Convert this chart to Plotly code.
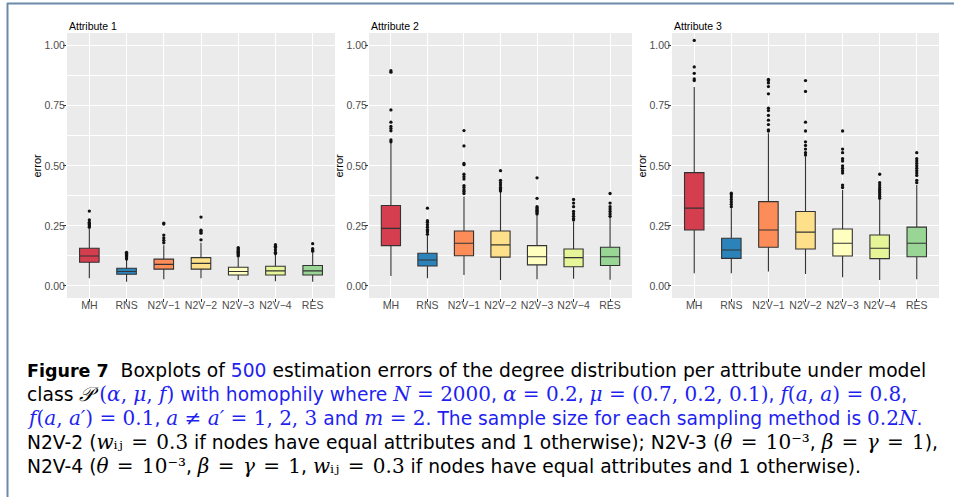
import plotly.graph_objects as go

W, H = 954, 497

categories = ["MH", "RNS", "N2V−1", "N2V−2", "N2V−3", "N2V−4", "RES"]
colors = ["#D53E4F", "#2B83BA", "#FC8D59", "#FEE08B", "#FFFFBF", "#E6F598", "#99D594"]
panel_titles = ["Attribute 1", "Attribute 2", "Attribute 3"]
y_ticks = [0.0, 0.25, 0.5, 0.75, 1.0]

# Attribute 1 box statistics (per category)
a1_lower = [0.032, 0.018, 0.028, 0.032, 0.025, 0.020, 0.018]
a1_q1 = [0.099, 0.049, 0.070, 0.070, 0.046, 0.046, 0.046]
a1_med = [0.125, 0.060, 0.090, 0.094, 0.060, 0.063, 0.063]
a1_q3 = [0.157, 0.074, 0.112, 0.118, 0.078, 0.082, 0.085]
a1_upper = [0.240, 0.110, 0.170, 0.180, 0.120, 0.130, 0.140]
a1_out = [
    [0.245, 0.250, 0.255, 0.260, 0.265, 0.275, 0.312],
    [0.112, 0.117, 0.122, 0.127, 0.131, 0.135, 0.140],
    [0.180, 0.190, 0.200, 0.212, 0.258, 0.262],
    [0.192, 0.220, 0.226, 0.232, 0.287],
    [0.125, 0.130, 0.135, 0.140, 0.145, 0.150, 0.155, 0.160],
    [0.135, 0.140, 0.150, 0.160, 0.165, 0.172],
    [0.145, 0.150, 0.155, 0.176],
]

# Attribute 2
a2_lower = [0.042, 0.032, 0.046, 0.025, 0.028, 0.030, 0.026]
a2_q1 = [0.168, 0.083, 0.126, 0.120, 0.088, 0.080, 0.085]
a2_med = [0.240, 0.108, 0.178, 0.171, 0.122, 0.118, 0.122]
a2_q3 = [0.335, 0.136, 0.229, 0.229, 0.168, 0.154, 0.161]
a2_upper = [0.595, 0.208, 0.372, 0.393, 0.296, 0.268, 0.289]
a2_out = [
    [0.600, 0.608, 0.646, 0.655, 0.664, 0.682, 0.733, 0.890, 0.896],
    [0.215, 0.225, 0.230, 0.235, 0.245, 0.255, 0.265, 0.272, 0.324],
    [0.385, 0.393, 0.400, 0.410, 0.418, 0.445, 0.455, 0.465, 0.505, 0.510, 0.583, 0.647],
    [0.395, 0.400, 0.405, 0.410, 0.420, 0.430, 0.440, 0.480],
    [0.300, 0.305, 0.310, 0.315, 0.320, 0.325, 0.330, 0.365, 0.450],
    [0.275, 0.280, 0.290, 0.300, 0.310, 0.330, 0.345, 0.360],
    [0.290, 0.300, 0.310, 0.320, 0.330, 0.345, 0.385],
]

# Attribute 3
a3_lower = [0.053, 0.053, 0.060, 0.050, 0.036, 0.025, 0.028]
a3_q1 = [0.233, 0.115, 0.161, 0.154, 0.125, 0.114, 0.122]
a3_med = [0.324, 0.150, 0.233, 0.224, 0.178, 0.157, 0.178]
a3_q3 = [0.472, 0.199, 0.351, 0.310, 0.2375, 0.2125, 0.245]
a3_upper = [0.828, 0.324, 0.636, 0.539, 0.400, 0.358, 0.420]
a3_out = [
    [0.855, 0.862, 0.885, 0.912, 1.022],
    [0.330, 0.340, 0.350, 0.360, 0.370, 0.380, 0.386],
    [0.645, 0.650, 0.672, 0.690, 0.710, 0.730, 0.740, 0.800, 0.830, 0.845, 0.855, 0.860],
    [0.545, 0.555, 0.570, 0.585, 0.600, 0.645, 0.682, 0.810, 0.855],
    [0.410, 0.420, 0.470, 0.480, 0.490, 0.500, 0.520, 0.530, 0.555, 0.570, 0.645],
    [0.365, 0.372, 0.380, 0.388, 0.395, 0.402, 0.410, 0.420, 0.430, 0.465],
    [0.430, 0.440, 0.460, 0.470, 0.480, 0.490, 0.500, 0.510, 0.520, 0.530, 0.555],
]

panels = [
    (a1_lower, a1_q1, a1_med, a1_q3, a1_upper, a1_out),
    (a2_lower, a2_q1, a2_med, a2_q3, a2_upper, a2_out),
    (a3_lower, a3_q1, a3_med, a3_q3, a3_upper, a3_out),
]

# layout geometry (pixels)
x_domains_px = [(67, 335), (369, 632), (672, 939)]
y_top_px, y_bot_px = 33, 298

fig = go.Figure()
for p, (lo, q1, med, q3, up, outs) in enumerate(panels):
    xa = "x" if p == 0 else f"x{p+1}"
    ya = "y" if p == 0 else f"y{p+1}"
    for i, cat in enumerate(categories):
        fig.add_trace(go.Box(
            x=[cat], q1=[q1[i]], median=[med[i]], q3=[q3[i]],
            lowerfence=[lo[i]], upperfence=[up[i]],
            fillcolor=colors[i], line=dict(color="#333333", width=1.1),
            whiskerwidth=0, boxpoints=False, showlegend=False,
            xaxis=xa, yaxis=ya, hoverinfo="skip",
        ))
        fig.add_trace(go.Scatter(
            x=[cat] * len(outs[i]), y=outs[i], mode="markers",
            marker=dict(size=3.3, color="#111111"), showlegend=False,
            xaxis=xa, yaxis=ya, hoverinfo="skip",
        ))

tick_font = dict(family="Liberation Sans, Arial, sans-serif", size=10.5, color="#4D4D4D")
layout = dict(
    width=W, height=H, margin=dict(l=0, r=0, t=0, b=0),
    paper_bgcolor="white", plot_bgcolor="#EBEBEB",
    boxgap=0.25, boxmode="overlay",
    font=dict(family="Liberation Sans, Arial, sans-serif"),
)
annotations = []
for p in range(3):
    sx = "" if p == 0 else str(p + 1)
    x0, x1 = x_domains_px[p]
    layout[f"xaxis{sx}"] = dict(
        domain=[x0 / W, x1 / W], anchor=f"y{sx}",
        type="category", categoryorder="array", categoryarray=categories,
        range=[-0.6, 6.6], showgrid=True, gridcolor="white", gridwidth=1.1,
        ticks="outside", ticklen=3, tickcolor="#333333", tickwidth=1,
        ticklabelstandoff=-6,
        tickfont=tick_font, zeroline=False, showline=False, fixedrange=True,
    )
    layout[f"yaxis{sx}"] = dict(
        domain=[1 - y_bot_px / H, 1 - y_top_px / H], anchor=f"x{sx}",
        range=[-0.05, 1.053], tickvals=y_ticks, tickformat=".2f",
        showgrid=True, gridcolor="white", gridwidth=1.1,
        minor=dict(tickvals=[0.125, 0.375, 0.625, 0.875], showgrid=True,
                   gridcolor="white", gridwidth=0.55),
        ticks="outside", ticklen=3, tickcolor="#333333", tickwidth=1,
        ticklabelstandoff=-4,
        tickfont=tick_font, zeroline=False, showline=False, fixedrange=True,
    )
    annotations.append(dict(
        text=panel_titles[p], x=x0 / W, y=1 - 26.5 / H, xref="paper", yref="paper",
        xanchor="left", yanchor="middle", showarrow=False,
        font=dict(family="Liberation Sans, Arial, sans-serif", size=10.5, color="black"),
    ))
    annotations.append(dict(
        text="error", x=(x0 - 31) / W, y=1 - ((y_top_px + y_bot_px) / 2) / H,
        xref="paper", yref="paper", xanchor="center", yanchor="middle",
        textangle=-90, showarrow=False,
        font=dict(family="Liberation Sans, Arial, sans-serif", size=11, color="black"),
    ))

# caption
SERIF = "DejaVu Serif, Liberation Serif, serif"
BLUE = "#1F1FF0"


def M(t):
    return f"<span style='font-family:{SERIF};font-size:20px'>{t}</span>"


def B(t):
    return f"<span style='color:{BLUE}'>{t}</span>"


EQ = "\u200a = \u200a"
W_IJ = "<i>w</i>ᵢⱼ"
THETA = "<i>θ</i>" + EQ + "10⁻³"
BG = "<i>β</i>" + EQ + "<i>γ</i>" + EQ + "1"

cap_lines = [
    "<span style='font-size:17.5px'><b>Figure 7</b></span>  Boxplots of " + B("500") +
    " estimation errors of the degree distribution per attribute under model",
    "class " + M("<i>𝒫</i>") + B(" " + M("(<i>α</i>, <i>μ</i>, <i>f</i>)") +
    " with homophily where " + M("<i>N</i> = 2000") + ", " + M("<i>α</i> = 0.2") +
    ", " + M("<i>μ</i> = (0.7, 0.2, 0.1)") + ", " + M("<i>f</i>(<i>a</i>, <i>a</i>) = 0.8") + ","),
    B(M("<i>f</i>(<i>a</i>, <i>a′</i>) = 0.1") + ", " + M("<i>a</i> ≠ <i>a′</i> = 1, 2, 3") +
      " and " + M("<i>m</i> = 2") + ". The sample size for each sampling method is " +
      M("0.2<i>N</i>") + "."),
    "N2V-2 (" + M(W_IJ + EQ + "0.3") +
    " if nodes have equal attributes and 1 otherwise); N2V-3 (" +
    M(THETA) + ", " + M(BG) + "),",
    "N2V-4 (" + M(THETA) + ", " + M(BG) +
    ", " + M(W_IJ + EQ + "0.3") +
    " if nodes have equal attributes and 1 otherwise).",
]
cap_y = [370, 394, 418, 442, 466]
for t, yy in zip(cap_lines, cap_y):
    annotations.append(dict(
        text=t, x=25 / W, y=1 - yy / H, xref="paper", yref="paper",
        xanchor="left", yanchor="middle", showarrow=False, align="left",
        font=dict(family="DejaVu Sans, sans-serif", size=18.7, color="black"),
    ))

layout["annotations"] = annotations
layout["shapes"] = [
    dict(type="line", xref="paper", yref="paper", x0=7 / W, x1=1, y0=1 - 3.5 / H, y1=1 - 3.5 / H,
         line=dict(color="#6D8AAB", width=2)),
    dict(type="line", xref="paper", yref="paper", x0=7.5 / W, x1=7.5 / W, y0=0, y1=1 - 3 / H,
         line=dict(color="#6D8AAB", width=2)),
]
fig.update_layout(**layout)
fig.write_html("out.html")
